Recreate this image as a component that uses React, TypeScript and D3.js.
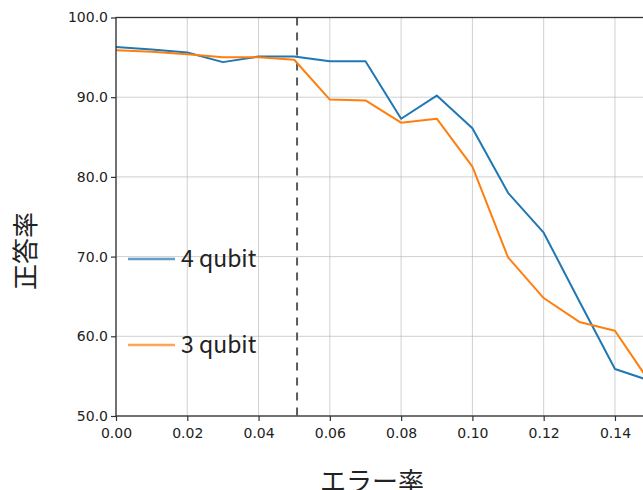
import { useEffect, useRef } from 'react'
import * as d3 from 'd3'

// error rate on x, accuracy (%) on y
const errorRates = [0.0, 0.01, 0.02, 0.03, 0.04, 0.05, 0.06, 0.07, 0.08, 0.09, 0.1, 0.11, 0.12, 0.13, 0.14, 0.15]
const fourQubit = [96.3, 96.0, 95.6, 94.4, 95.1, 95.1, 94.5, 94.5, 87.3, 90.2, 86.1, 78.0, 73.0, 64.4, 55.9, 54.4]
const threeQubit = [95.9, 95.7, 95.4, 95.0, 95.0, 94.7, 89.7, 89.6, 86.8, 87.3, 81.3, 69.9, 64.8, 61.8, 60.7, 54.1]
const xTicks = [0.0, 0.02, 0.04, 0.06, 0.08, 0.1, 0.12, 0.14]
const yTicks = [50, 60, 70, 80, 90, 100]
const threshold = 0.0508
const seriesNames = ['4 qubit', '3 qubit']

export default function App() {
  const ref = useRef<SVGSVGElement | null>(null)

  useEffect(() => {
    if (!ref.current) return
    const width = 643
    const height = 490
    const left = 116
    const right = 650.6
    const top = 17.5
    const bottom = 416

    const svg = d3.select(ref.current)
    svg.selectAll('*').remove()

    const x = d3.scaleLinear().domain([0, 0.15]).range([left, right])
    const y = d3.scaleLinear().domain([50, 100]).range([bottom, top])

    svg.append('rect').attr('width', width).attr('height', height).attr('fill', 'white')

    // grid
    const grid = svg.append('g')
    grid.selectAll('.gx')
      .data(xTicks)
      .enter()
      .append('line')
      .attr('x1', d => x(d)).attr('x2', d => x(d))
      .attr('y1', top).attr('y2', bottom)
      .attr('stroke', '#b0b0b0').attr('stroke-opacity', 0.6).attr('stroke-width', 1)
    grid.selectAll('.gy')
      .data(yTicks)
      .enter()
      .append('line')
      .attr('x1', left).attr('x2', right)
      .attr('y1', d => y(d)).attr('y2', d => y(d))
      .attr('stroke', '#b0b0b0').attr('stroke-opacity', 0.6).attr('stroke-width', 1)

    svg.append('defs').append('clipPath').attr('id', 'plot')
      .append('rect').attr('x', left).attr('y', top).attr('width', right - left).attr('height', bottom - top)

    // threshold marker
    svg.append('line')
      .attr('x1', x(threshold)).attr('x2', x(threshold))
      .attr('y1', top).attr('y2', bottom)
      .attr('stroke', '#5a5a5a').attr('stroke-width', 2)
      .attr('stroke-dasharray', '8,7')

    const line = d3.line<number>()
      .x((_, i) => x(errorRates[i]))
      .y(d => y(d))

    const colors = ['#1f77b4', '#ff7f0e']
    ;[fourQubit, threeQubit].forEach((vals, i) => {
      svg.append('path')
        .datum(vals)
        .attr('d', line)
        .attr('fill', 'none')
        .attr('stroke', colors[i])
        .attr('stroke-width', 2)
        .attr('stroke-linejoin', 'round')
        .attr('clip-path', 'url(#plot)')
    })

    // axes
    const xAxis = svg.append('g')
      .attr('transform', `translate(0,${bottom})`)
      .call(d3.axisBottom(x).tickValues(xTicks).tickFormat(d3.format('.2f')).tickSize(5).tickSizeOuter(0))
    const yAxis = svg.append('g')
      .attr('transform', `translate(${left},0)`)
      .call(d3.axisLeft(y).tickValues(yTicks).tickFormat(d3.format('.1f')).tickSize(5).tickSizeOuter(0))
    ;[xAxis, yAxis].forEach(ax => {
      ax.select('.domain').remove()
      ax.selectAll('line').attr('stroke', '#333').attr('stroke-width', 1.2)
      ax.selectAll('text')
        .attr('fill', '#222')
        .style('font-family', '"DejaVu Sans", sans-serif')
        .style('font-size', '14px')
    })
    xAxis.selectAll('text').attr('dy', '1.0em')
    yAxis.selectAll('text').attr('x', -8)

    // frame
    svg.append('rect')
      .attr('x', left).attr('y', top)
      .attr('width', right - left).attr('height', bottom - top)
      .attr('fill', 'none').attr('stroke', '#333').attr('stroke-width', 1.3)

    // legend
    const legendY = [259, 345]
    seriesNames.forEach((name, i) => {
      svg.append('line')
        .attr('x1', 128).attr('x2', 175)
        .attr('y1', legendY[i]).attr('y2', legendY[i])
        .attr('stroke', colors[i]).attr('stroke-opacity', 0.7).attr('stroke-width', 2.5)
      svg.append('text')
        .attr('x', 181).attr('y', legendY[i] + 8)
        .text(name)
        .style('font-family', '"Noto Sans CJK JP", sans-serif')
        .style('font-size', '23px')
        .attr('fill', '#222')
    })

    // axis titles
    svg.append('text')
      .attr('transform', `translate(35,251) rotate(-90)`)
      .attr('text-anchor', 'middle')
      .text('正答率')
      .style('font-family', '"Noto Sans CJK JP", sans-serif')
      .style('font-size', '26px')
      .attr('fill', '#222')
    svg.append('text')
      .attr('x', 372).attr('y', 491)
      .attr('text-anchor', 'middle')
      .text('エラー率')
      .style('font-family', '"Noto Sans CJK JP", sans-serif')
      .style('font-size', '26px')
      .attr('fill', '#222')
  }, [])

  return (
    <svg ref={ref} width={643} height={490}
      style={{ position: 'absolute', left: 0, top: 0, display: 'block' }} />
  )
}
